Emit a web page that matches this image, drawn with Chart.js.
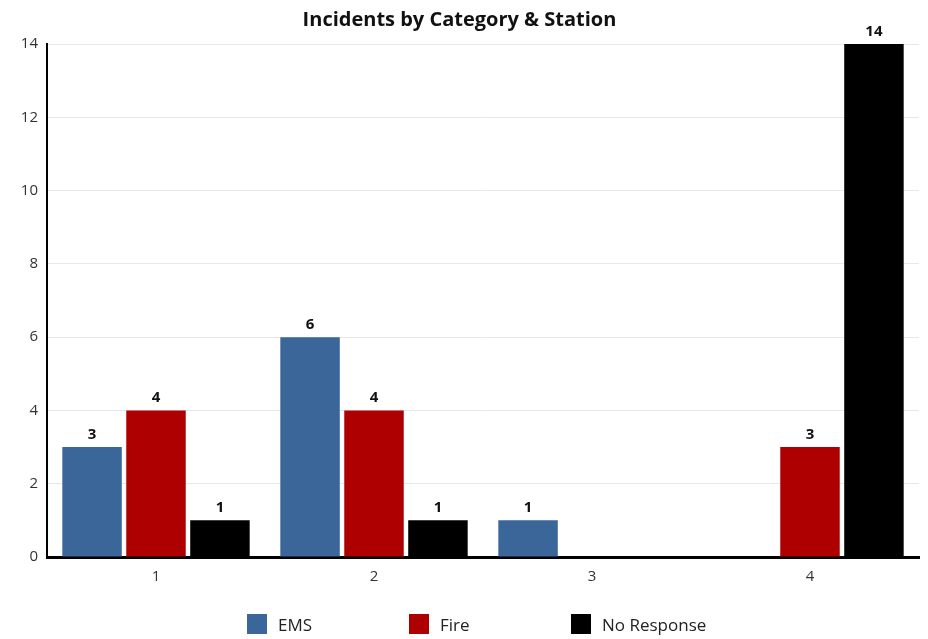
<!DOCTYPE html>
<html>
<head>
<meta charset="utf-8">
<script src="https://cdn.jsdelivr.net/npm/chart.js@4/dist/chart.umd.min.js"></script>
<style>
  html, body { margin: 0; padding: 0; background: #fff; }
  #wrap { position: relative; width: 928px; height: 639px; }
  #legend { position: absolute; left: 247px; top: 614px; display: flex; font-family: "Open Sans", sans-serif; font-size: 17px; color: #222; }
  .item { width: 162px; display: flex; align-items: center; height: 20px; }
  .box { width: 20px; height: 20px; margin-right: 11px; }
</style>
</head>
<body>
<div id="wrap">
  <canvas id="mycanvas" width="928" height="639"></canvas>
  <div id="legend"></div>
</div>
<script>
var stations = ["1", "2", "3", "4"];
var ems = [3, 6, 1, 0];
var fire = [4, 4, 0, 3];
var noResponse = [1, 1, 0, 14];
var seriesNames = ["EMS", "Fire", "No Response"];
var seriesColors = ["#3a6699", "#ae0000", "#000000"];

// draws the value above each bar, skips zeros
var barLabels = {
    id: 'barLabels',
    afterDatasetsDraw: function(chart) {
        var ctx = chart.ctx;
        ctx.save();
        ctx.font = 'bold 15px "Open Sans", sans-serif';
        ctx.fillStyle = '#111';
        ctx.textAlign = 'center';
        ctx.textBaseline = 'bottom';
        chart.data.datasets.forEach(function(ds, i) {
            chart.getDatasetMeta(i).data.forEach(function(bar, j) {
                if (!ds.data[j]) return;
                ctx.fillText(ds.data[j], bar.x, bar.y - 5);
            });
        });
        ctx.restore();
    }
};

var chartdata = {
    labels: stations,
    datasets: [ems, fire, noResponse].map(function(vals, i) {
        return {
            label: seriesNames[i],
            backgroundColor: seriesColors[i],
            data: vals,
            categoryPercentage: 0.88,
            barPercentage: 0.93
        };
    })
};

var ctx = document.getElementById('mycanvas');
var barGraph = new Chart(ctx, {
    type: 'bar',
    data: chartdata,
    plugins: [barLabels],
    options: {
        responsive: false,
        animation: false,
        layout: { padding: { left: 0, right: 9, top: 0, bottom: 42 } },
        plugins: {
            legend: { display: false },
            tooltip: { enabled: false },
            title: {
                display: true,
                text: 'Incidents by Category & Station',
                color: '#111',
                font: { family: '"Open Sans", sans-serif', size: 20, weight: 'bold' },
                padding: { top: 8, bottom: 12 }
            }
        },
        scales: {
            x: {
                grid: { display: false, drawTicks: false },
                border: { color: '#000', width: 3 },
                ticks: { color: '#333', padding: 11, font: { family: '"Open Sans", sans-serif', size: 15 } },
                afterFit: function(scale) { scale.height = 40; }
            },
            y: {
                min: 0,
                max: 14,
                ticks: { stepSize: 2, color: '#333', padding: 9, font: { family: '"Open Sans", sans-serif', size: 15 } },
                grid: { color: '#e8e8e8', drawTicks: false },
                border: { color: '#000', width: 2 },
                afterFit: function(scale) { scale.width = 47; }
            }
        }
    }
});

var legend = document.getElementById('legend');
seriesNames.forEach(function(name, i) {
    var item = document.createElement('div');
    item.className = 'item';
    item.innerHTML = '<span class="box" style="background:' + seriesColors[i] + '"></span>' + name;
    legend.appendChild(item);
});
</script>
</body>
</html>
